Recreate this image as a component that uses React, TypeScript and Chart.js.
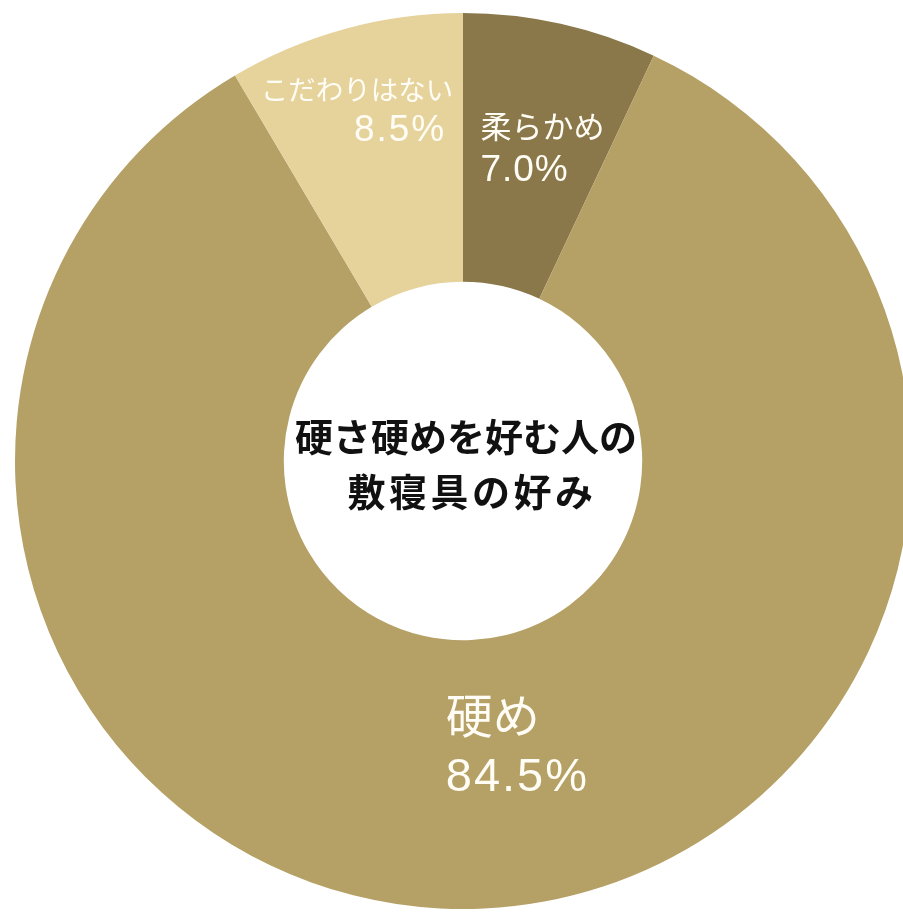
import React, { useEffect, useRef } from "react";
import { Chart, registerables } from "chart.js";

Chart.register(...registerables);

// ---- data ----
const categories: string[] = ["柔らかめ", "硬め", "こだわりはない"];
const values: number[] = [7.0, 84.5, 8.5];
const sliceColors: string[] = ["#8A784A", "#B5A065", "#E6D29B"];
const centerTitle: string[] = ["硬さ硬めを好む人の", "敷寝具の好み"];

// ---- label styles (offsets relative to each arc's mid point) ----
type LabelStyle = {
  align: CanvasTextAlign;
  dx: number;
  valueDx: number;
  nameDy: number;
  valueDy: number;
  nameSize: number;
  valueSize: number;
  valueSpacing: number;
};
const labelStyles: LabelStyle[] = [
  { align: "left", dx: -51, valueDx: -51, nameDy: -25, valueDy: 16, nameSize: 31, valueSize: 37, valueSpacing: 1 },
  { align: "left", dx: -32, valueDx: -32, nameDy: -54, valueDy: 4, nameSize: 47, valueSize: 47, valueSpacing: 2 },
  { align: "right", dx: 73, valueDx: 66, nameDy: -66, valueDy: -28, nameSize: 27.5, valueSize: 37, valueSpacing: 2 },
];

const FONT = '"Liberation Sans", "Noto Sans CJK JP", sans-serif';

const labelPlugin = {
  id: "sliceLabels",
  afterDatasetsDraw(chart: any) {
    const ctx: any = chart.ctx;
    const meta = chart.getDatasetMeta(0);
    ctx.save();
    ctx.textBaseline = "middle";
    ctx.fillStyle = "#FFFDF5";
    meta.data.forEach((el: any, i: number) => {
      const s = labelStyles[i];
      const p = el.tooltipPosition();
      ctx.textAlign = s.align;
      ctx.letterSpacing = "0px";
      ctx.font = `normal ${s.nameSize}px ${FONT}`;
      ctx.fillText(categories[i], p.x + s.dx, p.y + s.nameDy);
      ctx.letterSpacing = `${s.valueSpacing}px`;
      ctx.font = `normal ${s.valueSize}px ${FONT}`;
      ctx.fillText(`${values[i].toFixed(1)}%`, p.x + s.valueDx, p.y + s.valueDy);
    });
    // center title
    const first = meta.data[0];
    const cx = first.x;
    const cy = first.y;
    ctx.fillStyle = "#111111";
    ctx.textAlign = "center";
    ctx.font = `bold 38px "Noto Sans CJK JP", sans-serif`;
    ctx.letterSpacing = "0px";
    ctx.fillText(centerTitle[0], cx + 3, cy - 24);
    ctx.letterSpacing = "3.5px";
    ctx.fillText(centerTitle[1], cx + 9, cy + 31);
    ctx.restore();
  },
};

export default function App() {
  const ref = useRef<HTMLCanvasElement | null>(null);
  useEffect(() => {
    if (!ref.current) return;
    const chart = new Chart(ref.current, {
      type: "doughnut",
      data: {
        labels: categories,
        datasets: [
          {
            data: values,
            backgroundColor: sliceColors,
            borderWidth: 0,
          },
        ],
      },
      options: {
        animation: false,
        responsive: false,
        cutout: "40%",
        layout: { padding: 17 },
        plugins: {
          legend: { display: false },
          tooltip: { enabled: false },
        },
      },
      plugins: [labelPlugin],
    });
    return () => chart.destroy();
  }, []);
  return (
    <div style={{ position: "fixed", left: -2, top: -4, width: 930, height: 930, background: "#fff" }}>
      <canvas ref={ref} width={930} height={930} style={{ display: "block" }} />
    </div>
  );
}
